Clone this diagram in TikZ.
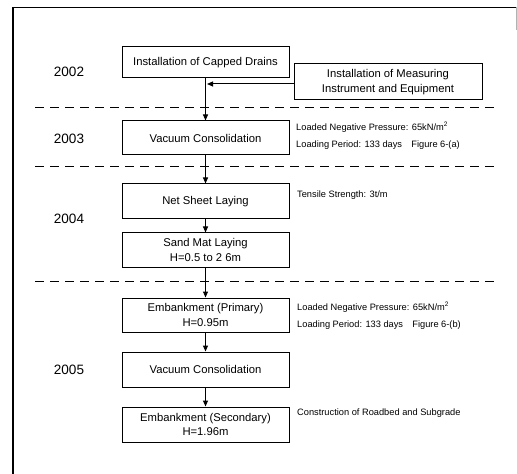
\documentclass[tikz,border=0pt]{standalone}
\usepackage{fontspec}
\setmainfont{Liberation Sans}
\usetikzlibrary{arrows.meta}
\begin{document}
\begin{tikzpicture}[x=1bp,y=-1bp,
  stepbox/.style={draw=black,line width=1bp,minimum width=167bp,minimum height=34bp,
    inner sep=1bp,align=center,font=\fontsize{11.3}{15}\selectfont},
  note/.style={anchor=west,inner sep=0pt,font=\fontsize{9.3}{11}\selectfont},
  year/.style={inner sep=0pt,font=\fontsize{13.6}{16}\selectfont},
  arr/.style={line width=1bp,-{Triangle[length=6bp,width=5bp]}},
  sep/.style={line width=0.8bp,dash pattern=on 9bp off 6bp}]
\useasboundingbox (0,0) rectangle (517,474);
% frame
\draw[line width=1.2bp] (13,474) -- (13,7.5) -- (517,7.5);
\draw[line width=0.5bp,gray!60] (516,7.5) -- (516,30);
% boxes
\node[stepbox,minimum height=31bp] (b1) at (205.5,62.5) {Installation of Capped Drains};
\node[stepbox,minimum width=188bp,minimum height=36bp] (b2) at (388,82) {Installation of Measuring\\Instrument and Equipment};
\node[stepbox] (b3) at (205.5,138) {Vacuum Consolidation};
\node[stepbox,minimum height=35bp] (b4) at (205.5,201.5) {Net Sheet Laying};
\node[stepbox] (b5) at (205.5,250) {Sand Mat Laying\\H=0.5 to 2 6m};
\node[stepbox] (b6) at (205.5,315) {Embankment (Primary)\\H=0.95m};
\node[stepbox,minimum height=35bp] (b7) at (205.5,369.5) {Vacuum Consolidation};
\node[stepbox,minimum height=35bp] (b8) at (205.5,424.5) {Embankment (Secondary)\\H=1.96m};
% years
\node[year] (y2) at (69,72) {2002};
\node[year] (y3) at (69,139) {2003};
\node[year] (y4) at (69,219) {2004};
\node[year] (y5) at (69,370) {2005};
% notes
\node[note] (n1) at (296,127) {Loaded Negative Pressure: 65kN/m\textsuperscript{2}};
\node[note] (n2) at (296,145) {Loading Period: 133 days\quad Figure 6-(a)};
\node[note] (n3) at (297,195) {Tensile Strength: 3t/m};
\node[note] (n4) at (297,307) {Loaded Negative Pressure: 65kN/m\textsuperscript{2}};
\node[note] (n5) at (297,325) {Loading Period: 133 days\quad Figure 6-(b)};
\node[note] (n6) at (297,413) {Construction of Roadbed and Subgrade};
% separators
\coordinate (s1a) at (35,107); \coordinate (s1b) at (495,107);
\coordinate (s2a) at (35,166); \coordinate (s2b) at (495,166);
\coordinate (s3a) at (35,281); \coordinate (s3b) at (495,281);
\draw[sep] (s1a) -- (s1b);
\draw[sep] (s2a) -- (s2b);
\draw[sep] (s3a) -- (s3b);
% connectors
\draw[arr] (b1) -- (b3);
\coordinate (j) at (b1.south |- 0,84);
\draw[arr] (b2.west |- j) -- ([xshift=1.5bp]j);
\draw[arr] (b3) -- (b4);
\draw[arr] (b4) -- (b5);
\draw[arr] (b5) -- (b6);
\draw[arr] (b6) -- (b7);
\draw[arr] (b7) -- (b8);
\end{tikzpicture}
\end{document}
